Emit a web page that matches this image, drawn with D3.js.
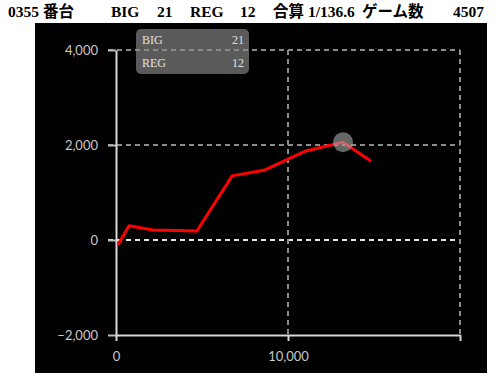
<!DOCTYPE html>
<html>
<head>
<meta charset="utf-8">
<script src="https://cdn.jsdelivr.net/npm/d3@7"></script>
<style>
  html, body { margin: 0; padding: 0; background: #fff; }
  svg { display: block; }
</style>
</head>
<body>
<div id="chart"></div>
<script>
// games played vs. coin difference
const games = [116, 756, 2150, 4700, 6750, 8660, 11040, 13200, 14830];
const diffs = [-105, 300, 210, 190, 1350, 1475, 1875, 2060, 1660];
const yTicks = [-2000, 0, 2000, 4000];
const xTicks = [0, 10000, 20000];
const xLabels = ['0', '10,000', ''];
const peakIndex = 7;

const legendRows = [['BIG', '21'], ['REG', '12']];
const headerParts = [
  ['0355 番台', 8], ['BIG', 111], ['21', 157], ['REG', 190], ['12', 240],
  ['合算 1/136.6', 273], ['ゲーム数', 362], ['4507', 453]
];

(function () {
  const W = 496, H = 378;
  const svg = d3.select('#chart').append('svg')
    .attr('width', W).attr('height', H);

  const serif = '"Liberation Serif", "Noto Sans CJK JP", serif';
  const sans = 'Lato, "DejaVu Sans", sans-serif';

  // header line
  svg.append('g').selectAll('text')
    .data(headerParts)
    .join('text')
    .attr('x', d => d[1])
    .attr('y', 17)
    .attr('font-family', serif)
    .attr('font-weight', 700)
    .attr('font-size', 15.5)
    .attr('fill', '#000')
    .text(d => d[0]);

  // black panel
  svg.append('rect')
    .attr('x', 35).attr('y', 23)
    .attr('width', 452).attr('height', 350)
    .attr('fill', '#000');

  const x = d3.scaleLinear().domain([0, 20000]).range([116, 460]);
  const y = d3.scaleLinear().domain([-2000, 4000]).range([335, 50]);

  // grid
  const grid = svg.append('g');
  grid.selectAll('line.h')
    .data(yTicks.filter(v => v !== -2000))
    .join('line')
    .attr('class', 'h')
    .attr('x1', x(0) - 8).attr('x2', x(20000))
    .attr('y1', d => y(d)).attr('y2', d => y(d))
    .attr('stroke', d => d === 0 ? '#e6e6e6' : '#8c8c8c')
    .attr('stroke-width', 2)
    .attr('stroke-dasharray', '5,4');

  grid.selectAll('line.v')
    .data(xTicks.filter(v => v !== 0))
    .join('line')
    .attr('class', 'v')
    .attr('x1', d => x(d)).attr('x2', d => x(d))
    .attr('y1', y(4000)).attr('y2', y(-2000))
    .attr('stroke', '#8c8c8c')
    .attr('stroke-width', 2)
    .attr('stroke-dasharray', '5,4');

  // axes
  const yAxis = svg.append('g')
    .attr('transform', `translate(${x(0)},0)`)
    .call(d3.axisLeft(y).tickValues(yTicks).tickFormat(d3.format(','))
      .tickSize(8).tickSizeOuter(0).tickPadding(10));
  yAxis.select('.domain').attr('stroke', '#d8d8d8').attr('stroke-width', 2);
  yAxis.selectAll('.tick line').attr('stroke', '#bbb').attr('stroke-width', 2);
  yAxis.selectAll('.tick text')
    .attr('fill', '#c8c8c8').attr('font-family', sans).attr('font-size', 13);

  const xAxis = svg.append('g')
    .attr('transform', `translate(0,${y(-2000)})`)
    .call(d3.axisBottom(x).tickValues(xTicks).tickFormat((d, i) => xLabels[i])
      .tickSize(6).tickSizeOuter(0).tickPadding(11));
  xAxis.select('.domain').attr('stroke', '#d8d8d8').attr('stroke-width', 2);
  xAxis.selectAll('.tick line').attr('stroke', '#d8d8d8').attr('stroke-width', 2);
  xAxis.selectAll('.tick text')
    .attr('fill', '#c8c8c8').attr('font-family', sans).attr('font-size', 13);

  // line
  const pts = games.map((g, i) => [g, diffs[i]]);
  svg.append('path')
    .datum(pts)
    .attr('fill', 'none')
    .attr('stroke', '#ff0000')
    .attr('stroke-width', 3)
    .attr('stroke-linejoin', 'round')
    .attr('d', d3.line().x(d => x(d[0])).y(d => y(d[1])));

  // hover marker
  svg.append('circle')
    .attr('cx', x(games[peakIndex]))
    .attr('cy', y(diffs[peakIndex]))
    .attr('r', 10)
    .attr('fill', '#aaa')
    .attr('fill-opacity', 0.6);

  // legend box
  const lg = svg.append('g').attr('transform', 'translate(136,29)');
  lg.append('rect')
    .attr('width', 113).attr('height', 45).attr('rx', 5)
    .attr('fill', '#8a8a8a').attr('fill-opacity', 0.65);
  const rows = lg.selectAll('g.row')
    .data(legendRows)
    .join('g')
    .attr('class', 'row')
    .attr('transform', (d, i) => `translate(0,${15 + i * 23})`);
  rows.append('text')
    .attr('x', 6)
    .attr('font-family', serif).attr('font-size', 12).attr('fill', '#e0e0e0')
    .text(d => d[0]);
  rows.append('text')
    .attr('x', 108).attr('text-anchor', 'end')
    .attr('font-family', serif).attr('font-size', 12).attr('fill', '#e0e0e0')
    .text(d => d[1]);
})();
</script>
</body>
</html>
